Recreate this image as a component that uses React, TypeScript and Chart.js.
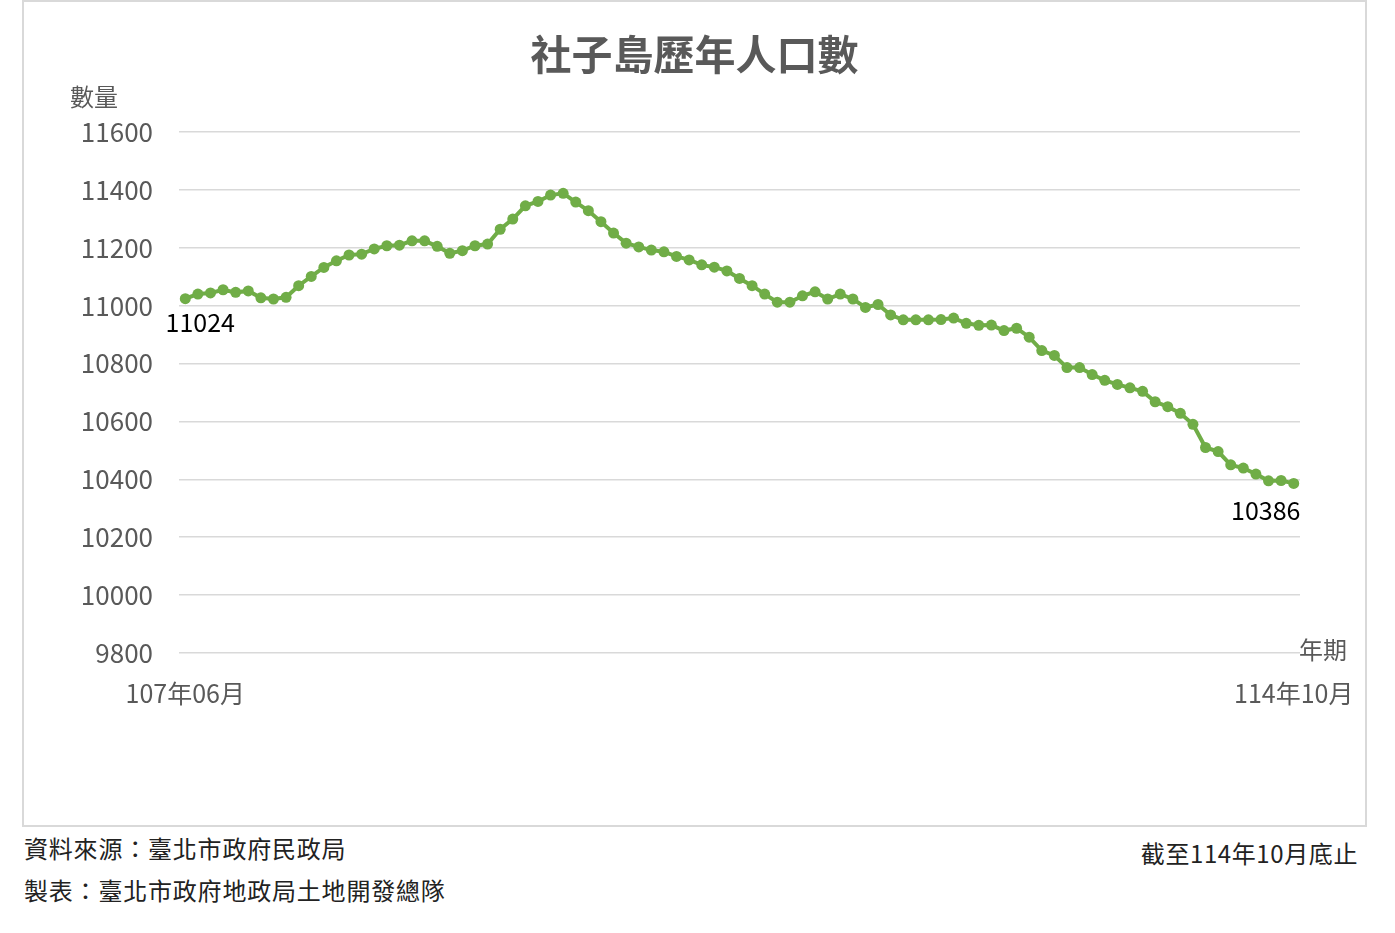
import { useEffect, useRef } from "react"
import { Chart, registerables } from "chart.js"

Chart.register(...registerables)

const FONT = '"Noto Sans CJK TC", "Noto Sans", sans-serif'

// 민국 107년 06월 ~ 114년 10월 (월별)
const START_YEAR = 107
const START_MONTH = 6
const MONTH_COUNT = 89

const months: string[] = []
for (let i = 0; i < MONTH_COUNT; i++) {
  const m = START_MONTH - 1 + i
  const y = START_YEAR + Math.floor(m / 12)
  const mm = (m % 12) + 1
  months.push(`${y}年${mm < 10 ? "0" + mm : mm}月`)
}

const population = [
  11024, 11040, 11044, 11055, 11046, 11051, 11027, 11023, 11029, 11069,
  11101, 11132, 11155, 11175, 11178, 11196, 11207, 11209, 11224, 11224,
  11205, 11181, 11190, 11207, 11213, 11264, 11299, 11345, 11360, 11382,
  11388, 11358, 11328, 11290, 11251, 11216, 11203, 11192, 11186, 11170,
  11158, 11141, 11133, 11120, 11094, 11069, 11040, 11012, 11012, 11034,
  11048, 11023, 11040, 11023, 10994, 11004, 10968, 10951, 10951, 10951,
  10952, 10957, 10939, 10932, 10933, 10914, 10922, 10891, 10845, 10828,
  10786, 10786, 10762, 10742, 10728, 10716, 10704, 10668, 10651, 10628,
  10590, 10510, 10496, 10450, 10439, 10418, 10395, 10396, 10386,
]

const Y_MIN = 9800
const Y_MAX = 11600
const Y_STEP = 200

const TITLE = "社子島歷年人口數"
const Y_TITLE = "數量"
const X_TITLE = "年期"
const SOURCE_NOTE = "資料來源：臺北市政府民政局"
const MAKER_NOTE = "製表：臺北市政府地政局土地開發總隊"
const DATE_NOTE = "截至114年10月底止"

// 축 제목과 첫/마지막 값 라벨
const annotatePlugin = {
  id: "annotate",
  afterDatasetsDraw(chart: any) {
    const { ctx, chartArea } = chart
    const points = chart.getDatasetMeta(0).data
    const last = points.length - 1
    ctx.save()
    ctx.font = `24px ${FONT}`
    ctx.textBaseline = "middle"
    ctx.fillStyle = "#595959"
    ctx.textAlign = "left"
    ctx.fillText(Y_TITLE, chartArea.left - 109, chartArea.top - 35)
    ctx.textAlign = "right"
    ctx.fillText(X_TITLE, chartArea.right + 47, chartArea.bottom - 3)

    ctx.font = `25px ${FONT}`
    ctx.fillStyle = "#000000"
    ctx.textAlign = "center"
    ctx.fillText(String(population[0]), points[0].x + 15, points[0].y + 24)
    ctx.fillText(String(population[last]), points[last].x - 28, points[last].y + 27)
    ctx.restore()
  },
}

function PopulationChart() {
  const chartRef = useRef<HTMLCanvasElement>(null)
  const chartInstance = useRef<Chart | null>(null)

  useEffect(() => {
    if (!chartRef.current) return
    if (chartInstance.current) chartInstance.current.destroy()

    const ctx = chartRef.current.getContext("2d")
    if (!ctx) return

    chartInstance.current = new Chart(ctx, {
      type: "line",
      data: {
        labels: months,
        datasets: [
          {
            label: TITLE,
            data: population,
            borderColor: "#70ad47",
            backgroundColor: "#70ad47",
            borderWidth: 4,
            pointRadius: 5.5,
            pointBackgroundColor: "#70ad47",
            pointBorderColor: "#70ad47",
            pointBorderWidth: 0,
            tension: 0,
          },
        ],
      },
      options: {
        animation: false,
        responsive: true,
        maintainAspectRatio: false,
        layout: { padding: 0 },
        plugins: {
          legend: { display: false },
          tooltip: { enabled: false },
          title: {
            display: true,
            text: TITLE,
            color: "#595959",
            font: { family: FONT, size: 41, weight: "bold", lineHeight: 1.2 },
            padding: { top: 28, bottom: 52.8 },
          },
        },
        scales: {
          x: {
            offset: true,
            grid: { display: false, drawTicks: false },
            border: { display: false },
            afterFit: (scale: any) => {
              scale.height = 172
              scale.paddingLeft = 0
              scale.paddingRight = 65
            },
            ticks: {
              autoSkip: false,
              maxRotation: 0,
              minRotation: 0,
              padding: 25,
              color: "#595959",
              font: { family: FONT, size: 25 },
              callback: (_v: any, i: number) =>
                i === 0 || i === months.length - 1 ? months[i] : "",
            },
          },
          y: {
            min: Y_MIN,
            max: Y_MAX,
            afterFit: (scale: any) => {
              scale.width = 155
            },
            grid: { color: "#d9d9d9", lineWidth: 1.5, drawTicks: false },
            border: { display: false },
            ticks: {
              stepSize: Y_STEP,
              padding: 26,
              color: "#595959",
              font: { family: FONT, size: 26 },
              callback: (v: any) => String(v),
            },
          },
        },
      },
      plugins: [annotatePlugin],
    })

    return () => {
      if (chartInstance.current) {
        chartInstance.current.destroy()
        chartInstance.current = null
      }
    }
  }, [])

  return (
    <div style={{ width: "1341px", height: "823px", position: "relative" }}>
      <canvas ref={chartRef} />
    </div>
  )
}

export default function App() {
  const noteStyle = {
    position: "absolute" as const,
    fontFamily: FONT,
    fontSize: "24px",
    lineHeight: "29px",
    color: "#222222",
    whiteSpace: "nowrap" as const,
  }

  return (
    <div
      style={{
        position: "absolute",
        left: 0,
        top: 0,
        width: "1395px",
        height: "933px",
        background: "#ffffff",
        overflow: "hidden",
      }}
    >
      <div
        style={{
          position: "absolute",
          left: "22px",
          top: "0px",
          width: "1345px",
          height: "827px",
          boxSizing: "border-box",
          border: "2px solid #d9d9d9",
        }}
      >
        <PopulationChart />
      </div>
      <div style={{ ...noteStyle, left: "24px", top: "833px", letterSpacing: "0.8px" }}>
        {SOURCE_NOTE}
      </div>
      <div style={{ ...noteStyle, left: "24px", top: "875px", letterSpacing: "0.8px" }}>
        {MAKER_NOTE}
      </div>
      <div style={{ ...noteStyle, right: "37px", top: "838px", letterSpacing: "0.6px" }}>
        {DATE_NOTE}
      </div>
    </div>
  )
}
